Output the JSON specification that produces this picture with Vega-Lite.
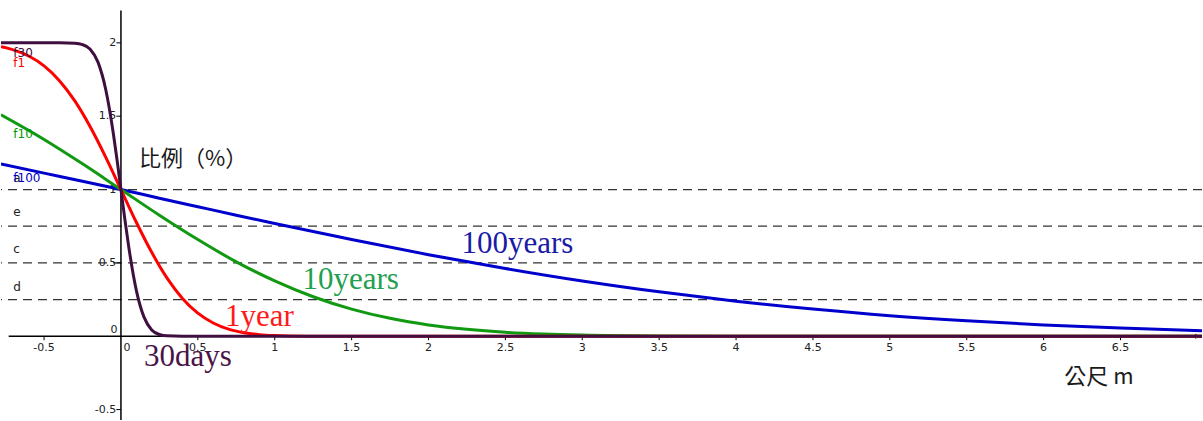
{
  "$schema": "https://vega.github.io/schema/vega-lite/v6.json",
  "autosize": {"type": "fit", "contains": "padding"},
  "width": 1203,
  "height": 421,
  "padding": 0,
  "background": "white",
  "config": {"view": {"stroke": null}},
  "datasets": {
    "curves": [
      {"s": "f100", "x": -0.78, "y": 1.175}, {"s": "f100", "x": -0.5, "y": 1.112}, {"s": "f100", "x": -0.25, "y": 1.057}, {"s": "f100", "x": 0, "y": 1.0},
      {"s": "f100", "x": 0.25, "y": 0.941}, {"s": "f100", "x": 0.5, "y": 0.883}, {"s": "f100", "x": 0.75, "y": 0.825}, {"s": "f100", "x": 1, "y": 0.768},
      {"s": "f100", "x": 1.5, "y": 0.659}, {"s": "f100", "x": 2, "y": 0.556}, {"s": "f100", "x": 2.5, "y": 0.462}, {"s": "f100", "x": 3, "y": 0.377},
      {"s": "f100", "x": 3.5, "y": 0.303}, {"s": "f100", "x": 4, "y": 0.239}, {"s": "f100", "x": 4.5, "y": 0.185}, {"s": "f100", "x": 5, "y": 0.14},
      {"s": "f100", "x": 5.5, "y": 0.105}, {"s": "f100", "x": 6, "y": 0.077}, {"s": "f100", "x": 6.5, "y": 0.056}, {"s": "f100", "x": 7.03, "y": 0.038},
      {"s": "f10", "x": -0.78, "y": 1.509}, {"s": "f10", "x": -0.5, "y": 1.341}, {"s": "f10", "x": -0.25, "y": 1.175}, {"s": "f10", "x": 0, "y": 1.0},
      {"s": "f10", "x": 0.25, "y": 0.825}, {"s": "f10", "x": 0.5, "y": 0.659}, {"s": "f10", "x": 0.75, "y": 0.507}, {"s": "f10", "x": 1, "y": 0.377},
      {"s": "f10", "x": 1.25, "y": 0.269}, {"s": "f10", "x": 1.5, "y": 0.185}, {"s": "f10", "x": 1.75, "y": 0.122}, {"s": "f10", "x": 2, "y": 0.077},
      {"s": "f10", "x": 2.25, "y": 0.047}, {"s": "f10", "x": 2.5, "y": 0.027}, {"s": "f10", "x": 2.75, "y": 0.015}, {"s": "f10", "x": 3, "y": 0.008},
      {"s": "f10", "x": 3.5, "y": 0.002}, {"s": "f10", "x": 4, "y": 0.0004}, {"s": "f10", "x": 5, "y": 0}, {"s": "f10", "x": 7.03, "y": 0},
      {"s": "f1", "x": -0.78, "y": 1.973}, {"s": "f1", "x": -0.7, "y": 1.952}, {"s": "f1", "x": -0.6, "y": 1.91}, {"s": "f1", "x": -0.5, "y": 1.843},
      {"s": "f1", "x": -0.4, "y": 1.742}, {"s": "f1", "x": -0.3, "y": 1.604}, {"s": "f1", "x": -0.2, "y": 1.428}, {"s": "f1", "x": -0.1, "y": 1.223},
      {"s": "f1", "x": 0, "y": 1.0}, {"s": "f1", "x": 0.1, "y": 0.777}, {"s": "f1", "x": 0.2, "y": 0.572}, {"s": "f1", "x": 0.3, "y": 0.396},
      {"s": "f1", "x": 0.4, "y": 0.258}, {"s": "f1", "x": 0.5, "y": 0.157}, {"s": "f1", "x": 0.6, "y": 0.09}, {"s": "f1", "x": 0.7, "y": 0.048},
      {"s": "f1", "x": 0.8, "y": 0.024}, {"s": "f1", "x": 0.9, "y": 0.011}, {"s": "f1", "x": 1.0, "y": 0.005}, {"s": "f1", "x": 1.2, "y": 0.0007},
      {"s": "f1", "x": 1.5, "y": 0}, {"s": "f1", "x": 7.03, "y": 0},
      {"s": "f30", "x": -0.78, "y": 2.0}, {"s": "f30", "x": -0.4, "y": 2.0}, {"s": "f30", "x": -0.3, "y": 1.997}, {"s": "f30", "x": -0.25, "y": 1.988},
      {"s": "f30", "x": -0.2, "y": 1.957}, {"s": "f30", "x": -0.15, "y": 1.87}, {"s": "f30", "x": -0.1, "y": 1.687}, {"s": "f30", "x": -0.05, "y": 1.386},
      {"s": "f30", "x": -0.025, "y": 1.2}, {"s": "f30", "x": 0, "y": 1.0}, {"s": "f30", "x": 0.025, "y": 0.8}, {"s": "f30", "x": 0.05, "y": 0.614},
      {"s": "f30", "x": 0.1, "y": 0.313}, {"s": "f30", "x": 0.15, "y": 0.13}, {"s": "f30", "x": 0.2, "y": 0.043}, {"s": "f30", "x": 0.25, "y": 0.012},
      {"s": "f30", "x": 0.3, "y": 0.0025}, {"s": "f30", "x": 0.4, "y": 0}, {"s": "f30", "x": 7.03, "y": 0}
    ],
    "hlines": [{"y": 1}, {"y": 0.75}, {"y": 0.5}, {"y": 0.25}],
    "xticks": [
      {"v": -0.5, "t": "-0.5"}, {"v": 0.5, "t": "0.5"}, {"v": 1, "t": "1"}, {"v": 1.5, "t": "1.5"}, {"v": 2, "t": "2"}, {"v": 2.5, "t": "2.5"},
      {"v": 3, "t": "3"}, {"v": 3.5, "t": "3.5"}, {"v": 4, "t": "4"}, {"v": 4.5, "t": "4.5"}, {"v": 5, "t": "5"}, {"v": 5.5, "t": "5.5"},
      {"v": 6, "t": "6"}, {"v": 6.5, "t": "6.5"}
    ],
    "yticks": [
      {"v": -0.5, "t": "-0.5"}, {"v": 0.5, "t": "0.5"}, {"v": 1, "t": "1"}, {"v": 1.5, "t": "1.5"}, {"v": 2, "t": "2"}
    ],
    "bigLabels": [
      {"t": "100years", "x": 2.578, "y": 0.626, "c": "#1a1aa8"},
      {"t": "10years", "x": 1.494, "y": 0.381, "c": "#22a050"},
      {"t": "1year", "x": 0.9, "y": 0.129, "c": "#ff1a1a"},
      {"t": "30days", "x": 0.435, "y": -0.143, "c": "#4a1448"}
    ],
    "smallLabels": [
      {"t": "f30", "x": -0.7, "y": 1.932, "c": "#3f0f3f"},
      {"t": "f1", "x": -0.7, "y": 1.864, "c": "#ff0000"},
      {"t": "f10", "x": -0.7, "y": 1.381, "c": "#009900"},
      {"t": "a", "x": -0.7, "y": 1.082, "c": "#222222"},
      {"t": "f100", "x": -0.7, "y": 1.082, "c": "#0000cc"},
      {"t": "e", "x": -0.7, "y": 0.844, "c": "#222222"},
      {"t": "c", "x": -0.7, "y": 0.592, "c": "#222222"},
      {"t": "d", "x": -0.7, "y": 0.333, "c": "#222222"}
    ]
  },
  "layer": [
    {
      "data": {"name": "hlines"},
      "mark": {"type": "rule", "stroke": "#333333", "strokeWidth": 1.3, "strokeDash": [9, 6]},
      "encoding": {"y": {"field": "y", "type": "quantitative", "scale": {"domain": [-0.571, 2.292], "zero": false, "nice": false}, "axis": null}}
    },
    {
      "data": {"values": [{"x1": -0.73, "x2": 7.0, "y": 0}]},
      "mark": {"type": "rule", "stroke": "#000000", "strokeWidth": 1.5},
      "encoding": {
        "x": {"field": "x1", "type": "quantitative", "scale": {"domain": [-0.78, 7.03], "zero": false, "nice": false}, "axis": null},
        "x2": {"field": "x2"},
        "y": {"field": "y", "type": "quantitative"}
      }
    },
    {
      "data": {"values": [{"x": 0, "y1": -0.571, "y2": 2.22}]},
      "mark": {"type": "rule", "stroke": "#000000", "strokeWidth": 1.5},
      "encoding": {
        "x": {"field": "x", "type": "quantitative"},
        "y": {"field": "y1", "type": "quantitative"},
        "y2": {"field": "y2"}
      }
    },
    {
      "data": {"values": [{"x": 7.0, "y": 0}]},
      "mark": {"type": "point", "shape": "triangle-right", "filled": true, "color": "#000000", "size": 30},
      "encoding": {"x": {"field": "x", "type": "quantitative"}, "y": {"field": "y", "type": "quantitative"}}
    },
    {
      "data": {"name": "xticks"},
      "mark": {"type": "rule", "stroke": "#000000", "strokeWidth": 1},
      "encoding": {
        "x": {"field": "v", "type": "quantitative"},
        "y": {"datum": 0, "type": "quantitative"},
        "y2": {"datum": -0.027}
      }
    },
    {
      "data": {"name": "yticks"},
      "mark": {"type": "rule", "stroke": "#000000", "strokeWidth": 1},
      "encoding": {
        "y": {"field": "v", "type": "quantitative"},
        "x": {"datum": 0, "type": "quantitative"},
        "x2": {"datum": -0.03}
      }
    },
    {
      "data": {"name": "xticks"},
      "mark": {"type": "text", "font": "DejaVu Sans", "fontSize": 11, "color": "#222222", "align": "center", "baseline": "middle"},
      "encoding": {
        "x": {"field": "v", "type": "quantitative"},
        "y": {"datum": -0.077, "type": "quantitative"},
        "text": {"field": "t"}
      }
    },
    {
      "data": {"name": "yticks"},
      "mark": {"type": "text", "font": "DejaVu Sans", "fontSize": 11, "color": "#222222", "align": "right", "baseline": "middle"},
      "encoding": {
        "y": {"field": "v", "type": "quantitative"},
        "x": {"datum": -0.03, "type": "quantitative"},
        "text": {"field": "t"}
      }
    },
    {
      "data": {"values": [{"t": "0", "x": -0.045, "y": 0.04}, {"t": "0", "x": 0.04, "y": -0.077}]},
      "mark": {"type": "text", "font": "DejaVu Sans", "fontSize": 11, "color": "#222222", "align": "center", "baseline": "middle"},
      "encoding": {
        "x": {"field": "x", "type": "quantitative"},
        "y": {"field": "y", "type": "quantitative"},
        "text": {"field": "t"}
      }
    },
    {
      "data": {"name": "curves"},
      "mark": {"type": "line", "strokeWidth": 3, "interpolate": "monotone", "clip": true},
      "encoding": {
        "x": {"field": "x", "type": "quantitative"},
        "y": {"field": "y", "type": "quantitative"},
        "color": {"field": "s", "type": "nominal", "scale": {"domain": ["f100", "f10", "f1", "f30"], "range": ["#0000cc", "#119911", "#ff0000", "#3f0f3f"]}, "legend": null},
        "order": {"field": "x", "type": "quantitative"}
      }
    },
    {
      "data": {"name": "smallLabels"},
      "mark": {"type": "text", "font": "DejaVu Sans", "fontSize": 12, "align": "left", "baseline": "middle"},
      "encoding": {
        "x": {"field": "x", "type": "quantitative"},
        "y": {"field": "y", "type": "quantitative"},
        "text": {"field": "t"},
        "color": {"field": "c", "type": "nominal", "scale": null}
      }
    },
    {
      "data": {"name": "bigLabels"},
      "mark": {"type": "text", "font": "Liberation Serif", "fontSize": 31, "align": "center", "baseline": "middle"},
      "encoding": {
        "x": {"field": "x", "type": "quantitative"},
        "y": {"field": "y", "type": "quantitative"},
        "text": {"field": "t"},
        "color": {"field": "c", "type": "nominal", "scale": null}
      }
    },
    {
      "data": {"values": [{"t": "比例（%）", "x": 0.47, "y": 1.211}, {"t": "公尺  m", "x": 6.36, "y": -0.279}]},
      "mark": {"type": "text", "font": "Noto Sans CJK TC", "fontSize": 22, "color": "#1a1a1a", "align": "center", "baseline": "middle"},
      "encoding": {
        "x": {"field": "x", "type": "quantitative"},
        "y": {"field": "y", "type": "quantitative"},
        "text": {"field": "t"}
      }
    }
  ]
}
